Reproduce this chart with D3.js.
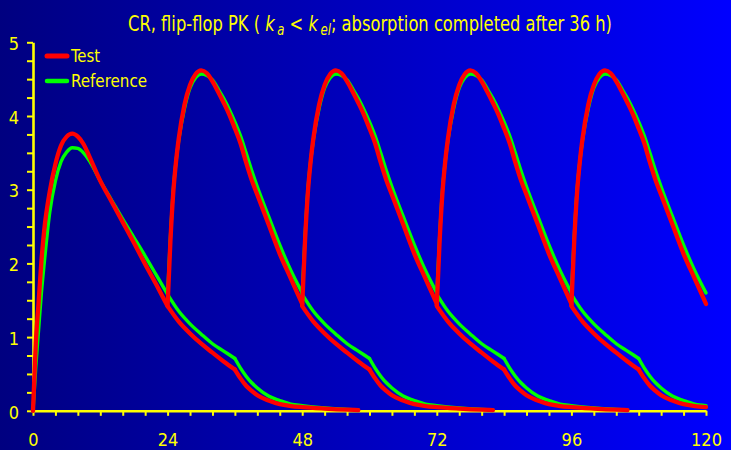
<!DOCTYPE html>
<html>
<head>
<meta charset="utf-8">
<script src="https://cdn.jsdelivr.net/npm/d3@7"></script>
<style>
  html, body { margin: 0; padding: 0; background: #000080; }
  svg { display: block; }
</style>
</head>
<body>
<svg id="chart" width="731" height="450"></svg>
<script>
// ---------- data ----------
const doseTimes = [0, 24, 48, 72, 96];

// first dosing interval (hours after first dose)
const hoursFirst = [0, 0.5, 1, 1.5, 2, 3, 4, 5, 6, 7, 8, 9, 10, 12, 14, 16, 18, 20, 22, 24];
const testFirst  = [0, 0.92, 1.47, 2.03, 2.45, 2.98, 3.35, 3.6, 3.72, 3.76, 3.72, 3.62, 3.46, 3.12, 2.84, 2.56, 2.28, 1.99, 1.71, 1.42];
const refFirst   = [0, 0.6, 1.1, 1.6, 2.0, 2.7, 3.12, 3.38, 3.51, 3.57, 3.56, 3.5, 3.4, 3.12, 2.86, 2.6, 2.35, 2.1, 1.84, 1.58];

// later dosing intervals (hours after the dose at 24, 48, 72, 96 h)
const hoursRepeat = [0, 0.5, 1, 1.5, 2, 3, 4, 5, 6, 7, 8, 9, 10, 11, 12, 13, 14, 15, 16, 18, 20, 22, 24];
const testRepeat  = [1.43, 2.3, 2.95, 3.38, 3.7, 4.15, 4.42, 4.57, 4.62, 4.58, 4.47, 4.33, 4.18, 4.02, 3.83, 3.63, 3.37, 3.13, 2.93, 2.53, 2.13, 1.79, 1.45];
const refRepeat   = [1.58, 2.35, 2.98, 3.38, 3.68, 4.1, 4.38, 4.52, 4.57, 4.55, 4.49, 4.37, 4.24, 4.09, 3.92, 3.73, 3.5, 3.26, 3.04, 2.64, 2.25, 1.9, 1.6];

// single-dose wash-out tail (hours after its own dose), kink at 36 h
const hoursTail = [24, 26, 28, 30, 32, 34, 36, 37, 38, 39, 40, 42, 44, 46, 48, 52, 56, 58];
const testTail  = [1.42, 1.21, 1.05, 0.91, 0.79, 0.67, 0.56, 0.44, 0.34, 0.27, 0.21, 0.14, 0.09, 0.065, 0.05, 0.03, 0.015, 0.01];
const refTail   = [1.58, 1.35, 1.18, 1.04, 0.91, 0.81, 0.71, 0.58, 0.47, 0.38, 0.31, 0.2, 0.14, 0.09, 0.07, 0.04, 0.02, 0.01];
const kinkHour = 36;

const xTicks = d3.range(0, 121, 4);
const xLabels = [0, 24, 48, 72, 96, 120];
const yTicks = d3.range(0, 5.001, 0.25);
const yLabels = [0, 1, 2, 3, 4, 5];
const seriesNames = ["Test", "Reference"];

// ---------- drawing ----------
const W = 731, H = 450;
const FONT = '"Liberation Sans Narrow", "Arial Narrow", "DejaVu Sans Condensed", sans-serif';
const YELLOW = "#ffff00", RED = "#ff0000", GREEN = "#00ff00";
const svg = d3.select("#chart");

const defs = svg.append("defs");
const grad = defs.append("linearGradient").attr("id", "bg").attr("x1", "0").attr("x2", "1").attr("y1", "0").attr("y2", "0");
grad.append("stop").attr("offset", "0").attr("stop-color", "#000080");
grad.append("stop").attr("offset", "1").attr("stop-color", "#0000ff");
svg.append("rect").attr("width", W).attr("height", H).attr("fill", "url(#bg)");

const x = d3.scaleLinear().domain([0, 120]).range([33, 706]);
const y = d3.scaleLinear().domain([0, 5]).range([410.8, 42.3]);

// axes
const gy = svg.append("g").attr("transform", `translate(${x(0)},0)`)
  .call(d3.axisLeft(y).tickValues(yTicks).tickSize(6).tickSizeOuter(0).tickPadding(8)
    .tickFormat(d => yLabels.includes(d) ? d3.format("d")(d) : ""));
const gx = svg.append("g").attr("transform", `translate(0,${y(0)})`)
  .call(d3.axisBottom(x).tickValues(xTicks).tickSize(5).tickSizeOuter(0).tickPadding(17)
    .tickFormat(d => xLabels.includes(d) ? d3.format("d")(d) : ""));
[gx, gy].forEach(g => {
  g.select(".domain").attr("stroke", YELLOW).attr("stroke-width", 2.6);
  g.selectAll(".tick line").attr("stroke", YELLOW).attr("stroke-width", 2);
  g.selectAll(".tick text").attr("fill", YELLOW).attr("font-family", FONT).attr("font-size", 18);
});
gy.selectAll(".tick text").attr("dy", "0.4em");

// curves
const line = d3.line().x(d => x(d[0])).y(d => y(d[1])).curve(d3.curveMonotoneX);
const plot = svg.append("g");

function segments(first, repeat, tail) {
  const segs = [];
  segs.push(hoursFirst.map((h, i) => [h, first[i]]));
  doseTimes.slice(1).forEach(t0 => {
    segs.push(hoursRepeat.map((h, i) => [t0 + h, repeat[i]]));
  });
  doseTimes.forEach(t0 => {
    const pts = hoursTail.map((h, i) => [t0 + h, tail[i], h]).filter(p => p[0] <= 120);
    if (pts.length < 2) return;
    const pre = pts.filter(p => p[2] <= kinkHour).map(p => [p[0], p[1]]);
    const post = pts.filter(p => p[2] >= kinkHour).map(p => [p[0], p[1]]);
    if (pre.length > 1) segs.push(pre);
    if (post.length > 1) segs.push(post);
  });
  return segs;
}

function drawSeries(segs, color, width) {
  plot.append("g").selectAll("path").data(segs).join("path")
    .attr("d", line)
    .attr("fill", "none")
    .attr("stroke", color)
    .attr("stroke-width", width)
    .attr("stroke-linecap", "round")
    .attr("stroke-linejoin", "round");
}
drawSeries(segments(refFirst, refRepeat, refTail), GREEN, 3.4);
drawSeries(segments(testFirst, testRepeat, testTail), RED, 4.3);

// legend
const legend = svg.append("g");
const legendItems = [
  { name: seriesNames[0], color: RED, width: 5, ly: 56, ty: 61.7, len: 29 },
  { name: seriesNames[1], color: GREEN, width: 4.5, ly: 81, ty: 87.3, len: 76 }
];
legendItems.forEach(it => {
  legend.append("line").attr("x1", 47).attr("x2", 67).attr("y1", it.ly).attr("y2", it.ly)
    .attr("stroke", it.color).attr("stroke-width", it.width).attr("stroke-linecap", "round");
  legend.append("text").attr("x", 71).attr("y", it.ty).attr("fill", YELLOW)
    .attr("font-family", FONT).attr("font-size", 18)
    .attr("textLength", it.len).attr("lengthAdjust", "spacingAndGlyphs")
    .text(it.name);
});

// title
const title = svg.append("text").attr("x", 128).attr("y", 31)
  .attr("fill", YELLOW).attr("font-family", FONT).attr("font-size", 21)
  .attr("textLength", 484).attr("lengthAdjust", "spacingAndGlyphs");
title.append("tspan").text("CR, flip-flop PK ( ");
title.append("tspan").attr("font-style", "italic").text("k");
title.append("tspan").attr("font-style", "italic").attr("font-size", 15).attr("dx", 3).attr("dy", 4).text("a");
title.append("tspan").attr("dy", -4).text(" < ");
title.append("tspan").attr("font-style", "italic").text("k");
title.append("tspan").attr("font-style", "italic").attr("font-size", 15).attr("dx", 3).attr("dy", 4).text("el");
title.append("tspan").attr("dy", -4).text("; absorption completed after 36 h)");
</script>
</body>
</html>
